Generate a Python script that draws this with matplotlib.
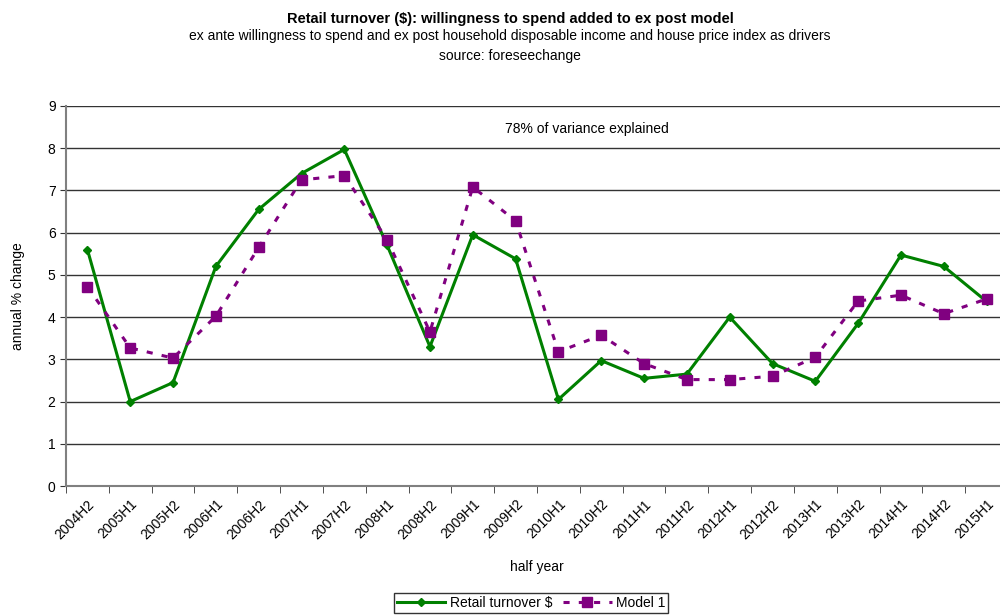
import numpy as np
import matplotlib
matplotlib.use("Agg")
import matplotlib.pyplot as plt

plt.rcParams['font.family'] = ['Liberation Sans', 'DejaVu Sans']

periods = ["2004H2", "2005H1", "2005H2", "2006H1", "2006H2", "2007H1", "2007H2",
           "2008H1", "2008H2", "2009H1", "2009H2", "2010H1", "2010H2", "2011H1",
           "2011H2", "2012H1", "2012H2", "2013H1", "2013H2", "2014H1", "2014H2", "2015H1"]
retail = [5.6, 2.0, 2.45, 5.2, 6.55, 7.4, 7.97, 5.7, 3.3, 5.95, 5.38, 2.05,
          2.97, 2.55, 2.65, 4.0, 2.9, 2.48, 3.85, 5.47, 5.2, 4.37]
model = [4.72, 3.27, 3.03, 4.02, 5.65, 7.25, 7.35, 5.83, 3.65, 7.08, 6.28, 3.18,
         3.57, 2.9, 2.52, 2.52, 2.6, 3.05, 4.38, 4.52, 4.08, 4.43]

fig = plt.figure(figsize=(10, 6.16), dpi=100)
ax = fig.add_axes([0.066, 0.211, 0.942, 0.617])

x = np.arange(len(periods))
ax.plot(x, retail, color='#008000', lw=2.2, marker='D', ms=4.5, label='Retail turnover $')
ax.plot(x, model, color='#800080', lw=2.2, ls=(0, (2, 3)), marker='s', ms=7,
        label='Model 1')

ax.set_xlim(-0.5, len(periods) - 0.5)
ax.set_ylim(0, 9)
ax.set_yticks(range(10))
ax.yaxis.grid(True, color='#333333', lw=1)
ax.set_axisbelow(True)
for s in ['top', 'right']:
    ax.spines[s].set_visible(False)
for s in ['left', 'bottom']:
    ax.spines[s].set_color('#808080')
    ax.spines[s].set_linewidth(1.5)

ax.set_xticks(x)
ax.set_xticklabels(periods, rotation=45, ha='right', rotation_mode='anchor', fontsize=10)
ax.tick_params(axis='x', which='major', length=0, pad=8)
ax.set_xticks(np.arange(-0.5, len(periods)), minor=True)
ax.tick_params(axis='x', which='minor', length=5, color='#333333')
ax.tick_params(axis='y', length=4, labelsize=10, color='#333333')

ax.set_xlabel("half year", fontsize=10, labelpad=13)
ax.set_ylabel("annual % change", fontsize=10, labelpad=16)

ax.text(0.553, 0.94, "78% of variance explained", transform=ax.transAxes,
        ha='center', va='center', fontsize=10)

fig.text(0.51, 0.969, "Retail turnover ($): willingness to spend added to ex post model",
         ha='center', va='center', fontsize=10.5, fontweight='bold')
fig.text(0.51, 0.941, "ex ante willingness to spend and ex post household disposable income and house price index as drivers",
         ha='center', va='center', fontsize=10)
fig.text(0.51, 0.909, "source: foreseechange", ha='center', va='center', fontsize=10)

leg = fig.legend(loc='center', bbox_to_anchor=(0.531, 0.021), ncol=2, fontsize=10,
                 frameon=True, fancybox=False, edgecolor='black', handlelength=3.5,
                 columnspacing=0.8, handletextpad=0.3, borderpad=0.2)

fig.savefig("out.png", dpi=100)
